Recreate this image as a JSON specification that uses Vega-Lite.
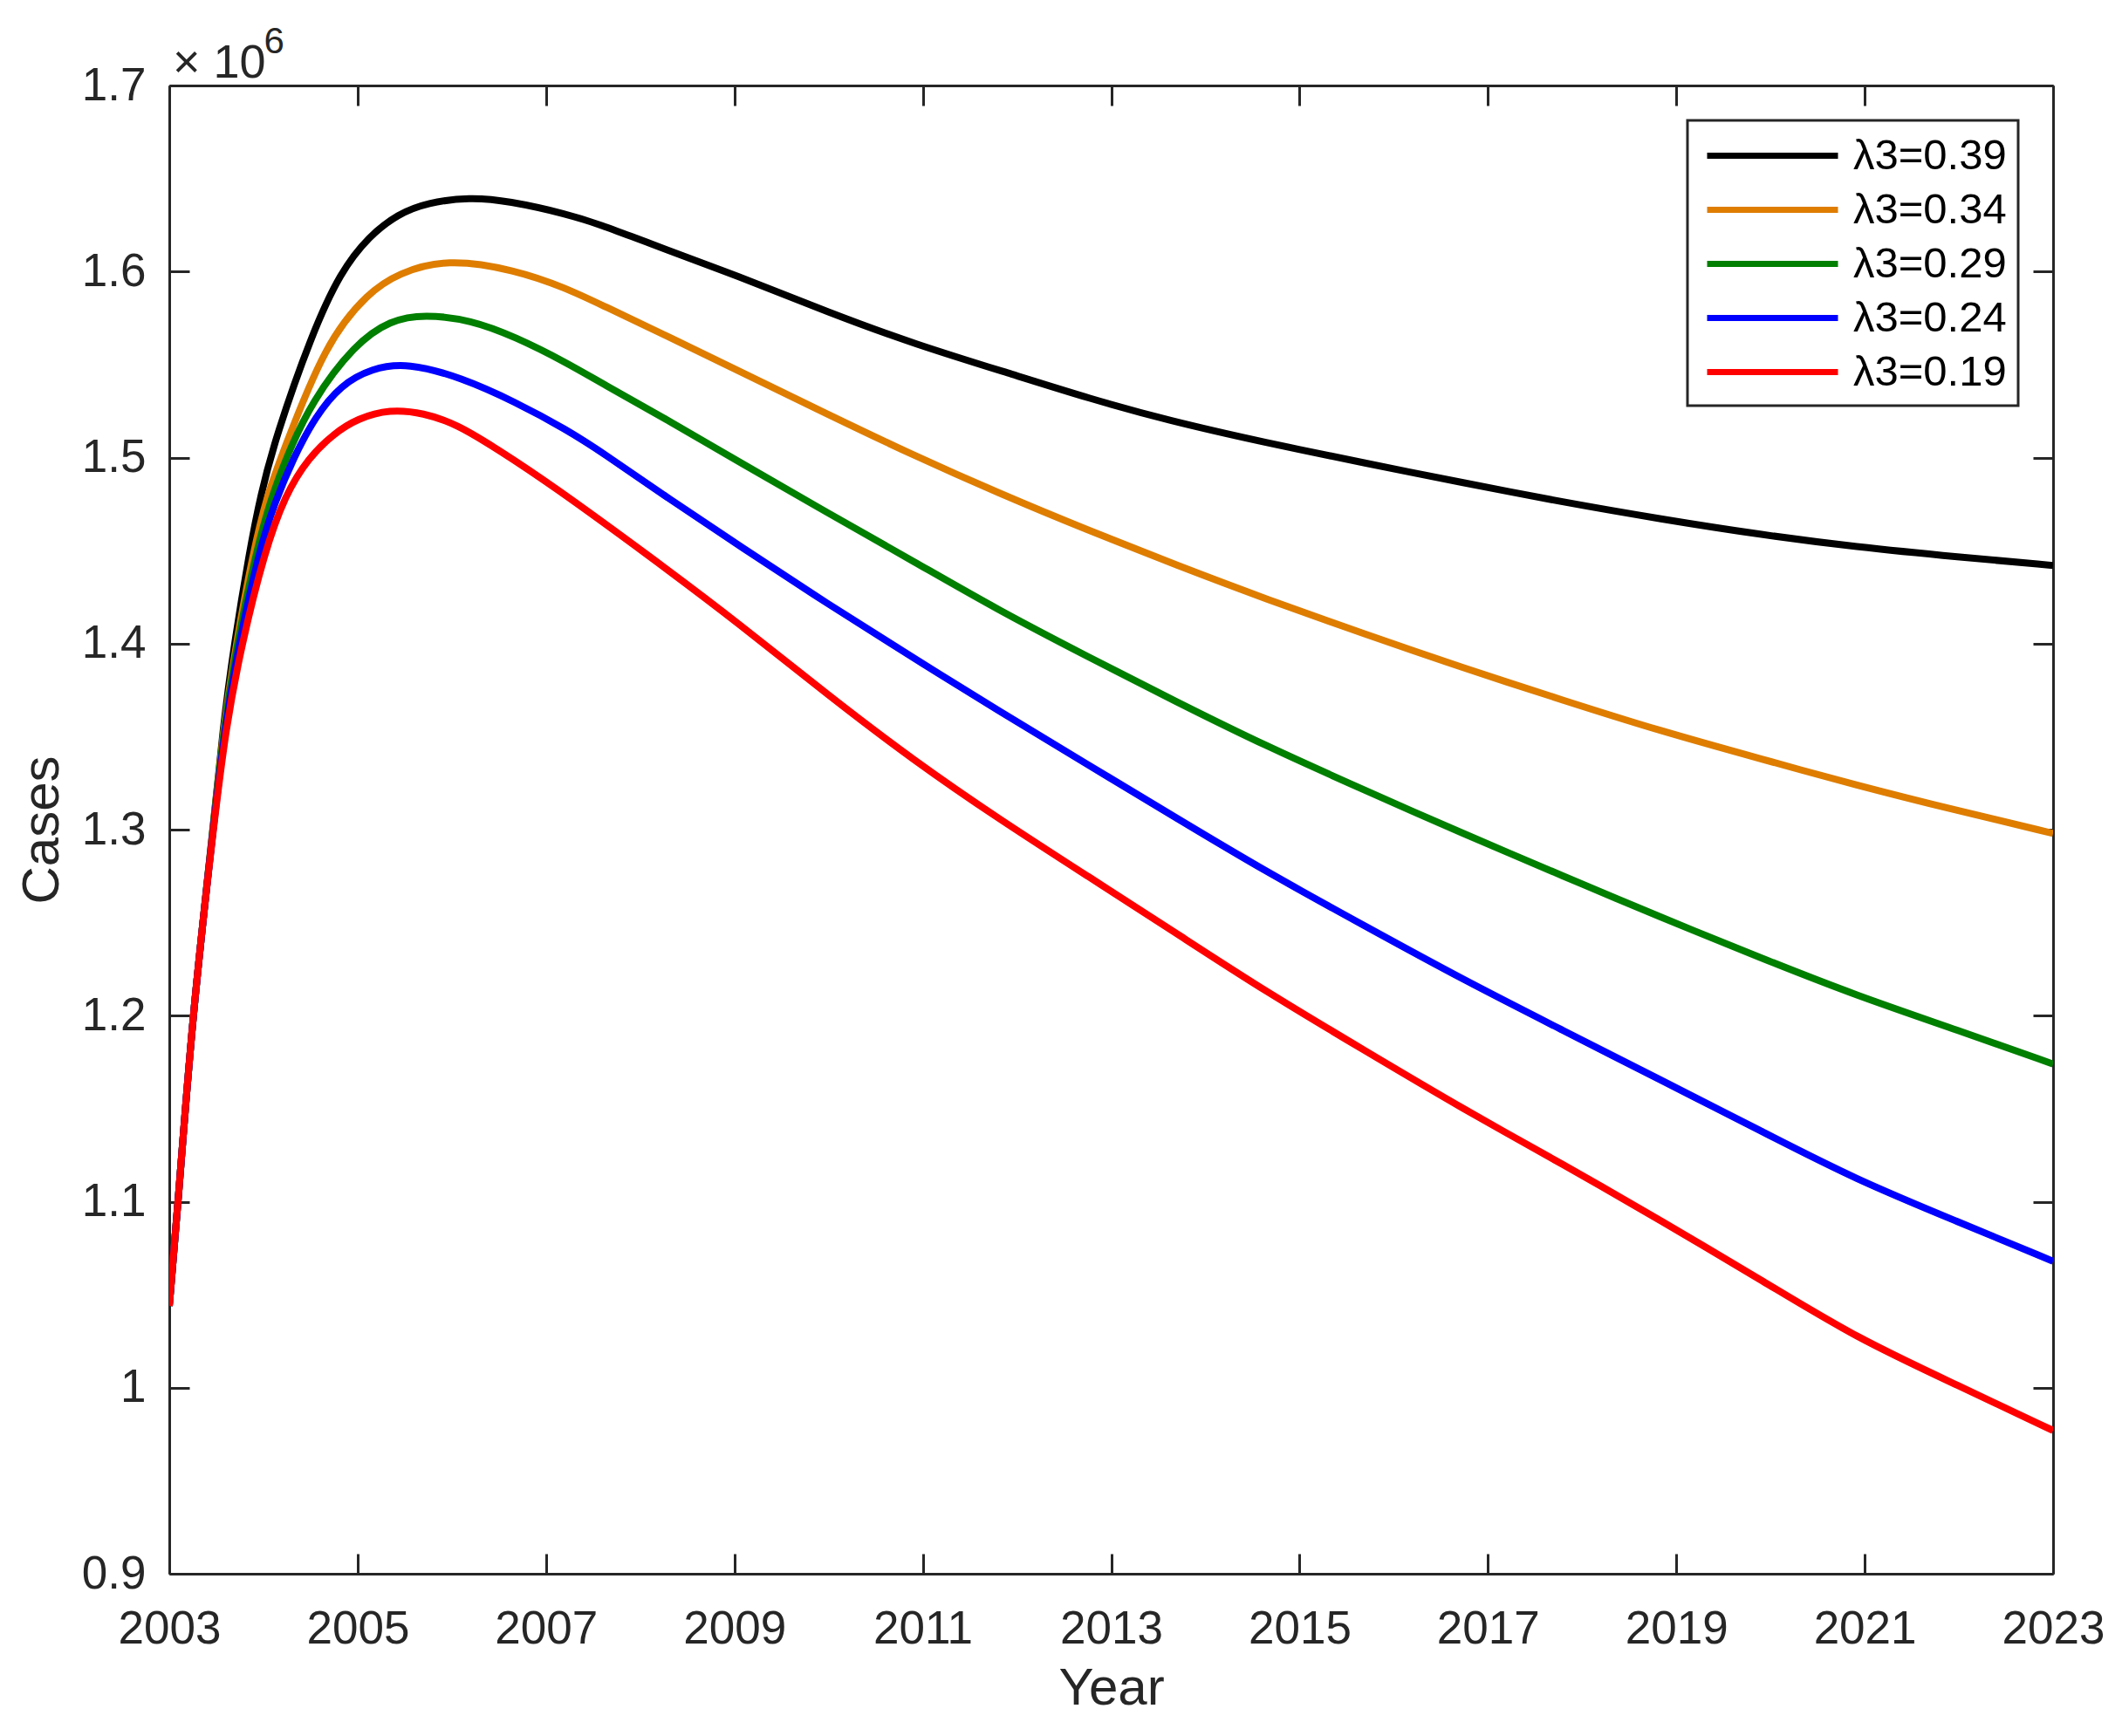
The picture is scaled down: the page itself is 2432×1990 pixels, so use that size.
{
  "$schema": "https://vega.github.io/schema/vega-lite/v6.json",
  "width": 2159,
  "height": 1706,
  "autosize": {"type": "none"},
  "padding": {"left": 194, "top": 98, "right": 79, "bottom": 186},
  "background": "white",
  "title": {
    "text": "× 10",
    "anchor": "start",
    "frame": "group",
    "font": "Liberation Sans",
    "fontSize": 54,
    "fontWeight": "normal",
    "color": "#262626",
    "baseline": "alphabetic",
    "offset": 12,
    "dx": 4,
    "dy": 129
  },
  "data": {
    "values": [
      {"series": "λ3=0.39", "year": 2003.00, "cases": 1044000},
      {"series": "λ3=0.39", "year": 2003.095, "cases": 1100000},
      {"series": "λ3=0.39", "year": 2003.245, "cases": 1200000},
      {"series": "λ3=0.39", "year": 2003.466, "cases": 1300000},
      {"series": "λ3=0.39", "year": 2003.57, "cases": 1355000},
      {"series": "λ3=0.39", "year": 2003.69, "cases": 1400000},
      {"series": "λ3=0.39", "year": 2003.85, "cases": 1449000},
      {"series": "λ3=0.39", "year": 2003.97, "cases": 1480000},
      {"series": "λ3=0.39", "year": 2004.13, "cases": 1511000},
      {"series": "λ3=0.39", "year": 2004.51, "cases": 1566000},
      {"series": "λ3=0.39", "year": 2004.82, "cases": 1600000},
      {"series": "λ3=0.39", "year": 2005.12, "cases": 1619000},
      {"series": "λ3=0.39", "year": 2005.43, "cases": 1631000},
      {"series": "λ3=0.39", "year": 2005.74, "cases": 1637000},
      {"series": "λ3=0.39", "year": 2006.19, "cases": 1640000},
      {"series": "λ3=0.39", "year": 2006.60, "cases": 1638000},
      {"series": "λ3=0.39", "year": 2007.22, "cases": 1631000},
      {"series": "λ3=0.39", "year": 2007.59, "cases": 1625000},
      {"series": "λ3=0.39", "year": 2008.00, "cases": 1617000},
      {"series": "λ3=0.39", "year": 2009.07, "cases": 1597000},
      {"series": "λ3=0.39", "year": 2010.00, "cases": 1578000},
      {"series": "λ3=0.39", "year": 2010.91, "cases": 1561000},
      {"series": "λ3=0.39", "year": 2012.00, "cases": 1544000},
      {"series": "λ3=0.39", "year": 2012.75, "cases": 1532000},
      {"series": "λ3=0.39", "year": 2013.60, "cases": 1520000},
      {"series": "λ3=0.39", "year": 2014.64, "cases": 1508000},
      {"series": "λ3=0.39", "year": 2015.70, "cases": 1497000},
      {"series": "λ3=0.39", "year": 2016.73, "cases": 1486500},
      {"series": "λ3=0.39", "year": 2017.80, "cases": 1476000},
      {"series": "λ3=0.39", "year": 2018.83, "cases": 1467000},
      {"series": "λ3=0.39", "year": 2019.90, "cases": 1458500},
      {"series": "λ3=0.39", "year": 2020.90, "cases": 1452000},
      {"series": "λ3=0.39", "year": 2022.00, "cases": 1446500},
      {"series": "λ3=0.39", "year": 2023.00, "cases": 1442000},

      {"series": "λ3=0.34", "year": 2003.00, "cases": 1044000},
      {"series": "λ3=0.34", "year": 2003.095, "cases": 1100000},
      {"series": "λ3=0.34", "year": 2003.245, "cases": 1200000},
      {"series": "λ3=0.34", "year": 2003.466, "cases": 1300000},
      {"series": "λ3=0.34", "year": 2003.575, "cases": 1355000},
      {"series": "λ3=0.34", "year": 2003.71, "cases": 1400000},
      {"series": "λ3=0.34", "year": 2003.89, "cases": 1449000},
      {"series": "λ3=0.34", "year": 2004.04, "cases": 1480000},
      {"series": "λ3=0.34", "year": 2004.20, "cases": 1502000},
      {"series": "λ3=0.34", "year": 2004.66, "cases": 1562000},
      {"series": "λ3=0.34", "year": 2005.12, "cases": 1589000},
      {"series": "λ3=0.34", "year": 2005.43, "cases": 1599000},
      {"series": "λ3=0.34", "year": 2005.94, "cases": 1607000},
      {"series": "λ3=0.34", "year": 2006.67, "cases": 1601000},
      {"series": "λ3=0.34", "year": 2007.22, "cases": 1591000},
      {"series": "λ3=0.34", "year": 2007.59, "cases": 1582000},
      {"series": "λ3=0.34", "year": 2008.30, "cases": 1565000},
      {"series": "λ3=0.34", "year": 2009.07, "cases": 1546000},
      {"series": "λ3=0.34", "year": 2010.00, "cases": 1523000},
      {"series": "λ3=0.34", "year": 2010.91, "cases": 1501000},
      {"series": "λ3=0.34", "year": 2011.80, "cases": 1481000},
      {"series": "λ3=0.34", "year": 2012.75, "cases": 1461000},
      {"series": "λ3=0.34", "year": 2013.70, "cases": 1442000},
      {"series": "λ3=0.34", "year": 2014.64, "cases": 1424000},
      {"series": "λ3=0.34", "year": 2015.70, "cases": 1405000},
      {"series": "λ3=0.34", "year": 2016.73, "cases": 1387000},
      {"series": "λ3=0.34", "year": 2017.80, "cases": 1369500},
      {"series": "λ3=0.34", "year": 2018.83, "cases": 1353000},
      {"series": "λ3=0.34", "year": 2019.90, "cases": 1338000},
      {"series": "λ3=0.34", "year": 2020.90, "cases": 1324000},
      {"series": "λ3=0.34", "year": 2022.00, "cases": 1310000},
      {"series": "λ3=0.34", "year": 2023.00, "cases": 1298000},

      {"series": "λ3=0.29", "year": 2003.00, "cases": 1044000},
      {"series": "λ3=0.29", "year": 2003.095, "cases": 1100000},
      {"series": "λ3=0.29", "year": 2003.245, "cases": 1200000},
      {"series": "λ3=0.29", "year": 2003.466, "cases": 1300000},
      {"series": "λ3=0.29", "year": 2003.58, "cases": 1355000},
      {"series": "λ3=0.29", "year": 2003.72, "cases": 1400000},
      {"series": "λ3=0.29", "year": 2003.92, "cases": 1449000},
      {"series": "λ3=0.29", "year": 2004.08, "cases": 1478000},
      {"series": "λ3=0.29", "year": 2004.25, "cases": 1501000},
      {"series": "λ3=0.29", "year": 2004.51, "cases": 1530000},
      {"series": "λ3=0.29", "year": 2004.97, "cases": 1561000},
      {"series": "λ3=0.29", "year": 2005.35, "cases": 1574000},
      {"series": "λ3=0.29", "year": 2005.71, "cases": 1577000},
      {"series": "λ3=0.29", "year": 2006.20, "cases": 1574000},
      {"series": "λ3=0.29", "year": 2006.67, "cases": 1565000},
      {"series": "λ3=0.29", "year": 2007.22, "cases": 1551000},
      {"series": "λ3=0.29", "year": 2007.59, "cases": 1540000},
      {"series": "λ3=0.29", "year": 2008.30, "cases": 1520000},
      {"series": "λ3=0.29", "year": 2009.07, "cases": 1497000},
      {"series": "λ3=0.29", "year": 2010.00, "cases": 1470000},
      {"series": "λ3=0.29", "year": 2010.91, "cases": 1444000},
      {"series": "λ3=0.29", "year": 2011.80, "cases": 1418000},
      {"series": "λ3=0.29", "year": 2012.75, "cases": 1393000},
      {"series": "λ3=0.29", "year": 2013.70, "cases": 1368500},
      {"series": "λ3=0.29", "year": 2014.64, "cases": 1345000},
      {"series": "λ3=0.29", "year": 2015.70, "cases": 1321000},
      {"series": "λ3=0.29", "year": 2016.73, "cases": 1298000},
      {"series": "λ3=0.29", "year": 2017.80, "cases": 1275000},
      {"series": "λ3=0.29", "year": 2018.83, "cases": 1253000},
      {"series": "λ3=0.29", "year": 2019.90, "cases": 1231000},
      {"series": "λ3=0.29", "year": 2020.90, "cases": 1211000},
      {"series": "λ3=0.29", "year": 2022.00, "cases": 1192000},
      {"series": "λ3=0.29", "year": 2023.00, "cases": 1174000},

      {"series": "λ3=0.24", "year": 2003.00, "cases": 1044000},
      {"series": "λ3=0.24", "year": 2003.095, "cases": 1100000},
      {"series": "λ3=0.24", "year": 2003.245, "cases": 1200000},
      {"series": "λ3=0.24", "year": 2003.466, "cases": 1300000},
      {"series": "λ3=0.24", "year": 2003.59, "cases": 1355000},
      {"series": "λ3=0.24", "year": 2003.74, "cases": 1400000},
      {"series": "λ3=0.24", "year": 2003.95, "cases": 1449000},
      {"series": "λ3=0.24", "year": 2004.12, "cases": 1476000},
      {"series": "λ3=0.24", "year": 2004.32, "cases": 1500000},
      {"series": "λ3=0.24", "year": 2004.55, "cases": 1522000},
      {"series": "λ3=0.24", "year": 2004.82, "cases": 1539000},
      {"series": "λ3=0.24", "year": 2005.15, "cases": 1548000},
      {"series": "λ3=0.24", "year": 2005.53, "cases": 1551000},
      {"series": "λ3=0.24", "year": 2006.10, "cases": 1543000},
      {"series": "λ3=0.24", "year": 2006.67, "cases": 1530000},
      {"series": "λ3=0.24", "year": 2007.22, "cases": 1515000},
      {"series": "λ3=0.24", "year": 2007.59, "cases": 1503000},
      {"series": "λ3=0.24", "year": 2008.30, "cases": 1478000},
      {"series": "λ3=0.24", "year": 2009.07, "cases": 1452000},
      {"series": "λ3=0.24", "year": 2010.00, "cases": 1421000},
      {"series": "λ3=0.24", "year": 2010.91, "cases": 1392000},
      {"series": "λ3=0.24", "year": 2011.80, "cases": 1364000},
      {"series": "λ3=0.24", "year": 2012.75, "cases": 1335000},
      {"series": "λ3=0.24", "year": 2013.70, "cases": 1306000},
      {"series": "λ3=0.24", "year": 2014.64, "cases": 1277500},
      {"series": "λ3=0.24", "year": 2015.70, "cases": 1248000},
      {"series": "λ3=0.24", "year": 2016.73, "cases": 1219500},
      {"series": "λ3=0.24", "year": 2017.80, "cases": 1192000},
      {"series": "λ3=0.24", "year": 2018.83, "cases": 1165500},
      {"series": "λ3=0.24", "year": 2019.90, "cases": 1138000},
      {"series": "λ3=0.24", "year": 2020.90, "cases": 1112000},
      {"series": "λ3=0.24", "year": 2022.00, "cases": 1089000},
      {"series": "λ3=0.24", "year": 2023.00, "cases": 1068000},

      {"series": "λ3=0.19", "year": 2003.00, "cases": 1044000},
      {"series": "λ3=0.19", "year": 2003.095, "cases": 1100000},
      {"series": "λ3=0.19", "year": 2003.245, "cases": 1200000},
      {"series": "λ3=0.19", "year": 2003.466, "cases": 1300000},
      {"series": "λ3=0.19", "year": 2003.60, "cases": 1355000},
      {"series": "λ3=0.19", "year": 2003.77, "cases": 1400000},
      {"series": "λ3=0.19", "year": 2004.01, "cases": 1449000},
      {"series": "λ3=0.19", "year": 2004.23, "cases": 1480000},
      {"series": "λ3=0.19", "year": 2004.48, "cases": 1500000},
      {"series": "λ3=0.19", "year": 2004.75, "cases": 1513000},
      {"series": "λ3=0.19", "year": 2005.00, "cases": 1521000},
      {"series": "λ3=0.19", "year": 2005.34, "cases": 1526000},
      {"series": "λ3=0.19", "year": 2005.70, "cases": 1524000},
      {"series": "λ3=0.19", "year": 2006.05, "cases": 1518000},
      {"series": "λ3=0.19", "year": 2006.50, "cases": 1504000},
      {"series": "λ3=0.19", "year": 2007.04, "cases": 1486000},
      {"series": "λ3=0.19", "year": 2008.10, "cases": 1447000},
      {"series": "λ3=0.19", "year": 2009.07, "cases": 1410000},
      {"series": "λ3=0.19", "year": 2010.00, "cases": 1372000},
      {"series": "λ3=0.19", "year": 2010.91, "cases": 1337000},
      {"series": "λ3=0.19", "year": 2011.80, "cases": 1306000},
      {"series": "λ3=0.19", "year": 2012.75, "cases": 1275000},
      {"series": "λ3=0.19", "year": 2013.70, "cases": 1244000},
      {"series": "λ3=0.19", "year": 2014.64, "cases": 1213000},
      {"series": "λ3=0.19", "year": 2015.70, "cases": 1181000},
      {"series": "λ3=0.19", "year": 2016.73, "cases": 1150000},
      {"series": "λ3=0.19", "year": 2017.80, "cases": 1120000},
      {"series": "λ3=0.19", "year": 2018.83, "cases": 1090000},
      {"series": "λ3=0.19", "year": 2019.90, "cases": 1058000},
      {"series": "λ3=0.19", "year": 2020.90, "cases": 1027000},
      {"series": "λ3=0.19", "year": 2022.00, "cases": 1001000},
      {"series": "λ3=0.19", "year": 2023.00, "cases": 977000}
    ]
  },
  "layer": [
    {
      "mark": {"type": "line", "strokeWidth": 8, "interpolate": "basis", "clip": true},
      "encoding": {
        "x": {
          "field": "year", "type": "quantitative",
          "scale": {"domain": [2003, 2023], "nice": false, "zero": false},
          "axis": {
            "orient": "bottom", "title": "Year",
            "values": [2003, 2005, 2007, 2009, 2011, 2013, 2015, 2017, 2019, 2021, 2023],
            "format": "d", "labelFlush": false, "labelOverlap": false,
            "labelPadding": 60, "titlePadding": 12
          }
        },
        "y": {
          "field": "cases", "type": "quantitative",
          "scale": {"domain": [900000, 1700000], "nice": false, "zero": false},
          "axis": {
            "orient": "left", "title": "Cases",
            "values": [900000, 1000000, 1100000, 1200000, 1300000, 1400000, 1500000, 1600000, 1700000],
            "labelExpr": "format(datum.value / 1000000, '.1~f')",
            "labelFlush": false, "labelOverlap": false,
            "labelPadding": 50, "titlePadding": 14
          }
        },
        "color": {
          "field": "series", "type": "nominal",
          "scale": {
            "domain": ["λ3=0.39", "λ3=0.34", "λ3=0.29", "λ3=0.24", "λ3=0.19"],
            "range": ["#000000", "#DE7D00", "#007F00", "#0000FF", "#FF0000"]
          },
          "legend": {"title": null}
        }
      }
    },
    {
      "mark": {"type": "line", "opacity": 0},
      "encoding": {
        "x": {
          "field": "year", "type": "quantitative",
          "axis": {
            "orient": "top", "title": "6", "labels": false,
            "values": [2003, 2005, 2007, 2009, 2011, 2013, 2015, 2017, 2019, 2021, 2023],
            "titleFontSize": 42, "titleAnchor": null, "titleAlign": "left",
            "titleBaseline": "alphabetic", "titleAngle": 0,
            "titleX": 108, "titleY": -38
          }
        },
        "y": {
          "field": "cases", "type": "quantitative",
          "axis": {
            "orient": "right", "title": null, "labels": false,
            "values": [900000, 1000000, 1100000, 1200000, 1300000, 1400000, 1500000, 1600000, 1700000]
          }
        },
        "detail": {"field": "series"}
      }
    }
  ],
  "resolve": {"axis": {"x": "independent", "y": "independent"}},
  "config": {
    "view": {"stroke": null},
    "font": "Liberation Sans",
    "axis": {
      "grid": false,
      "domainColor": "#262626",
      "domainWidth": 3,
      "tickColor": "#262626",
      "tickWidth": 3,
      "tickSize": -23,
      "labelFont": "Liberation Sans",
      "labelFontSize": 53,
      "labelColor": "#262626",
      "titleFont": "Liberation Sans",
      "titleFontSize": 60,
      "titleFontWeight": "normal",
      "titleColor": "#262626"
    },
    "legend": {
      "orient": "top-right",
      "offset": 40,
      "fillColor": "white",
      "strokeColor": "#262626",
      "strokeWidth": 3,
      "padding": 13,
      "symbolType": "M-3.125,0L3.125,0",
      "symbolSize": 2304,
      "symbolStrokeWidth": 7,
      "symbolOffset": 57,
      "labelOffset": 65,
      "labelLimit": 600,
      "labelFont": "Liberation Sans",
      "labelFontSize": 49,
      "labelColor": "#000000",
      "rowPadding": 9
    }
  }
}
